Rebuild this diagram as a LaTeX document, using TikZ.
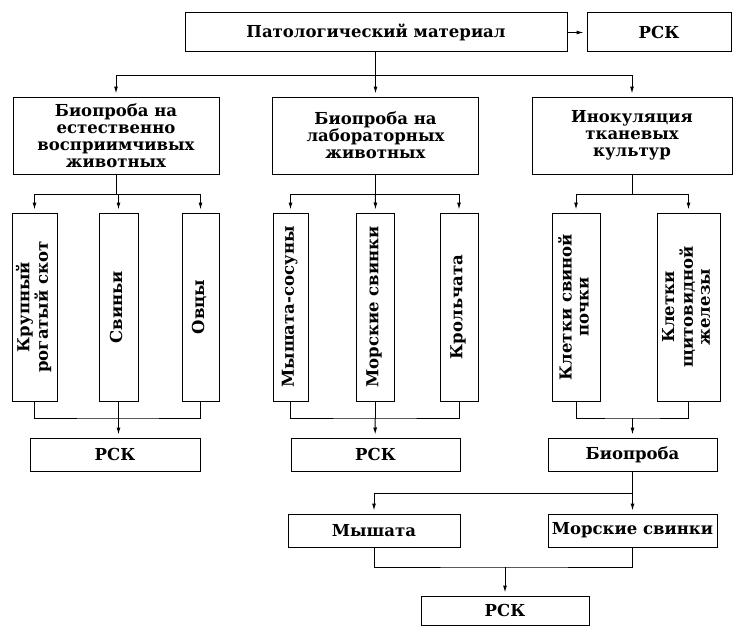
\documentclass[tikz,border=0pt]{standalone}
\usepackage{fontspec}
\setmainfont{DejaVu Serif}
\usepackage{graphicx}
\usetikzlibrary{arrows.meta}
\newcommand{\vtext}[1]{\rotatebox{90}{\begin{tabular}{@{}c@{}}#1\end{tabular}}}
\begin{document}
\begin{tikzpicture}[x=1pt, y=-1pt, line width=1pt,
  main node/.style={draw, rectangle, inner sep=2pt, align=center},
  tall node/.style={main node, minimum height=188pt},
  low node/.style={main node, minimum height=33pt},
  arr/.style={-{Latex[length=7pt,width=4pt]}, shorten >=3pt}]
\useasboundingbox (0,0) rectangle (733,626);
\begin{scope}[every node/.style={font=\fontsize{16.5}{17}\selectfont\bfseries}]
% top row
\node [main node,minimum width=382pt,minimum height=39pt](mat) at (376,32.5) {Патологический материал};
\node [main node,minimum width=144pt,minimum height=39pt](rsk1) at (659,32.5) {РСК};
% second row
\node [main node,minimum width=206pt,minimum height=77pt](bio1) at (116,135.5) {Биопроба на\\естественно\\восприимчивых\\животных};
\node [main node,minimum width=206pt,minimum height=77pt](bio2) at (375.5,135.5) {Биопроба на\\лабораторных\\животных};
\node [main node,minimum width=200pt,minimum height=77pt](bio3) at (632,135.5) {Инокуляция\\тканевых\\культур};
% animals and cells
\node [tall node,minimum width=45pt](t1) at (34.5,307) {\vtext{Крупный\\рогатый скот}};
\node [tall node,minimum width=39pt](t2) at (118.5,307) {\vtext{Свиньи}};
\node [tall node,minimum width=37pt](t3) at (200.5,307) {\vtext{Овцы}};
\node [tall node,minimum width=35pt](t4) at (290.5,307) {\vtext{Мышата-сосуны}};
\node [tall node,minimum width=38pt](t5) at (375,307) {\vtext{Морские свинки}};
\node [tall node,minimum width=38pt](t6) at (459,307) {\vtext{Крольчата}};
\node [tall node,minimum width=48pt](t7) at (576,307) {\vtext{Клетки свиной\\почки}};
\node [tall node,minimum width=63pt](t8) at (688.5,307) {\vtext{Клетки\\щитовидной\\железы}};
% lower boxes
\node [low node,minimum width=170pt](rsk2) at (115,454.5) {РСК};
\node [low node,minimum width=169pt](rsk3) at (375.5,454.5) {РСК};
\node [low node,minimum width=169pt](biop) at (632.5,454.5) {Биопроба};
\node [low node,minimum width=172pt](mice) at (374,530.5) {Мышата};
\node [low node,minimum width=169pt](pigs) at (632.5,530.5) {Морские свинки};
\node [main node,minimum width=168pt,minimum height=29pt](rsk4) at (505,610.5) {РСК};
\end{scope}
% junctions
\coordinate (j0) at (375.5,75);
\coordinate (j1) at (116,194);
\coordinate (j2) at (375.5,194);
\coordinate (j3) at (632,194);
\coordinate (k1) at (118.5,418);
\coordinate (k2) at (375,418);
\coordinate (k3) at (632.5,418);
\coordinate (j4) at (632.5,493);
\coordinate (k4) at (505,567);
\path
    (mat) edge [arr] (rsk1)
    (mat.south -| j0) edge (j0)
    (j0) edge [arr] (bio2)
    ;
\draw [arr] (j0) -| (bio1);
\draw [arr] (j0) -| (bio3);
% bioassay branches
\draw (bio1) -- (j1);
\draw [arr] (j1) -| (t1);
\draw [arr] (j1) -| (t3);
\draw [arr] (j1) -| (t2);
\draw (bio2) -- (j2);
\draw [arr] (j2) -| (t4);
\draw [arr] (j2) -| (t6);
\draw [arr] (j2) -- (t5);
\draw (bio3) -- (j3);
\draw [arr] (j3) -| (t7);
\draw [arr] (j3) -| (t8);
% collecting lines
\draw (t1) |- (k1) -| (t3);
\draw (t2) -- (k1);
\draw [arr] (k1) -- (k1 |- rsk2.north);
\draw (t4) |- (k2) -| (t6);
\draw (t5) -- (k2);
\draw [arr] (k2) -- (rsk3);
\draw (t7) |- (k3) -| (t8);
\draw [arr] (k3) -- (biop);
\draw (biop) -- (j4);
\draw [arr] (j4) -| (mice);
\draw [arr] (j4) -- (pigs);
\draw (mice) |- (k4) -| (pigs);
\draw [arr] (k4) -- (rsk4);
\end{tikzpicture}
\end{document}
